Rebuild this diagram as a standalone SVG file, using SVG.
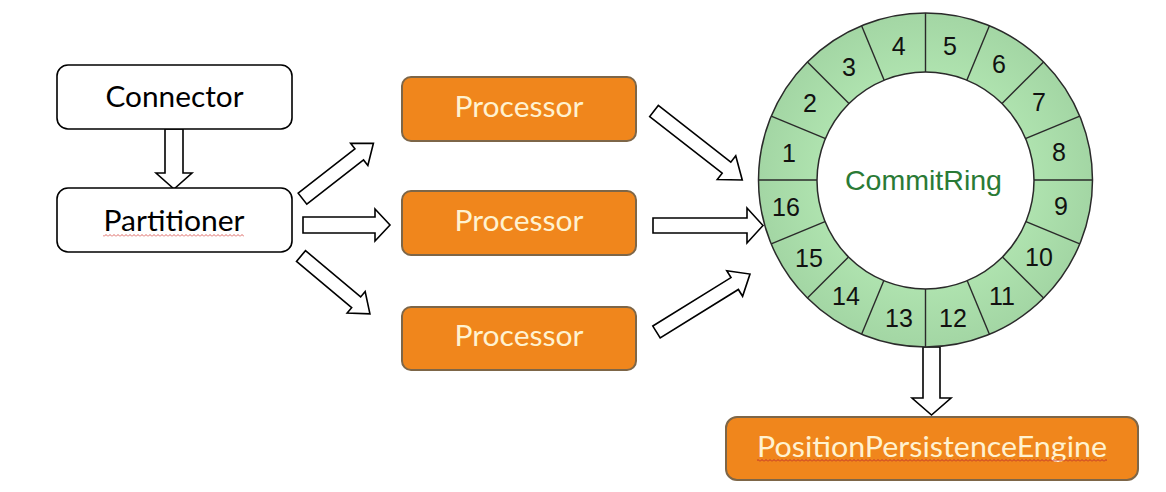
<svg xmlns="http://www.w3.org/2000/svg" width="1166" height="492" viewBox="0 0 1166 492">
<style>
.box{fill:#fff;stroke:#000;stroke-width:1.6}
.proc{fill:#F0861C;stroke:#7d6648;stroke-width:2}
.lbl{font-family:Lato,"Open Sans","Liberation Sans",sans-serif;font-size:28px;text-anchor:middle}
.dark{fill:#000}
.light{fill:#FFF2D0}
.num{font-family:"Liberation Sans",Arial,sans-serif;font-size:25px;text-anchor:middle;fill:#111}
.arrow{fill:#fff;stroke:#000;stroke-width:1.6;stroke-linejoin:miter}
.seg{stroke:#2a2a2a;stroke-width:1.4}
</style>
<defs>
<radialGradient id="ringfill" cx="0.5" cy="0.5" r="0.5">
<stop offset="0.6" stop-color="#b0e4b0"/>
<stop offset="1" stop-color="#a3d6a4"/>
</radialGradient>
<pattern id="sq" width="4" height="3" patternUnits="userSpaceOnUse">
<path d="M0 2.5 L2 0.5 L4 2.5" stroke="#d9534f" fill="none" stroke-width="0.9"/>
</pattern>
<pattern id="sq2" width="4" height="3" patternUnits="userSpaceOnUse">
<path d="M0 2.5 L2 0.5 L4 2.5" stroke="#c0302a" fill="none" stroke-width="1"/>
</pattern>
</defs>
<rect width="1166" height="492" fill="#fff"/>

<g id="connectors">
<polygon class="arrow" points="165,129 183,129 183,173 192,173 174,189 156,173 165,173"/>
<polygon class="arrow" transform="translate(302.5,198.7) rotate(-38)" points="0,-7 72,-7 72,-14 90,0 72,14 72,7 0,7"/>
<polygon class="arrow" points="303,217 375,217 375,209 390,225 375,241 375,233 303,233"/>
<polygon class="arrow" transform="translate(301,256) rotate(40)" points="0,-7 72,-7 72,-14 90,0 72,14 72,7 0,7"/>
<polygon class="arrow" transform="translate(654,111) rotate(38)" points="0,-7 92,-7 92,-15 112,0 92,15 92,7 0,7"/>
<polygon class="arrow" points="653,218 747,218 747,208 763,225.5 747,243 747,233 653,233"/>
<polygon class="arrow" transform="translate(656.5,332) rotate(-31.8)" points="0,-7 92,-7 92,-15 110,0 92,15 92,7 0,7"/>
<polygon class="arrow" points="923,347 940,347 940,398 951,398 931.5,415 912,398 923,398"/>
</g>

<g id="connector">
<rect class="box" x="57" y="65" width="235" height="64" rx="11"/>
<text class="lbl dark" x="174.5" y="107" textLength="138" lengthAdjust="spacingAndGlyphs">Connector</text>
</g>

<g id="partitioner">
<rect class="box" x="57" y="188" width="235" height="64" rx="11"/>
<text class="lbl dark" x="174" y="231" textLength="141" lengthAdjust="spacingAndGlyphs">Partitioner</text>
<rect x="103" y="234" width="141" height="3" fill="url(#sq)"/>
</g>

<g id="processor1">
<rect class="proc" x="402" y="77" width="234" height="64" rx="9"/>
<text class="lbl light" x="519" y="117" textLength="129" lengthAdjust="spacingAndGlyphs">Processor</text>
</g>
<g id="processor2">
<rect class="proc" x="402" y="191" width="234" height="64" rx="9"/>
<text class="lbl light" x="519" y="231" textLength="129" lengthAdjust="spacingAndGlyphs">Processor</text>
</g>
<g id="processor3">
<rect class="proc" x="402" y="307" width="234" height="63" rx="9"/>
<text class="lbl light" x="519" y="346" textLength="129" lengthAdjust="spacingAndGlyphs">Processor</text>
</g>

<g id="commitring">
<circle cx="925.5" cy="180" r="167" fill="url(#ringfill)" stroke="#2a2a2a" stroke-width="1.5"/>
<g transform="translate(925.5,180)">
<line class="seg" x1="-167" y1="0" x2="167" y2="0"/>
<line class="seg" x1="-167" y1="0" x2="167" y2="0" transform="rotate(22.5)"/>
<line class="seg" x1="-167" y1="0" x2="167" y2="0" transform="rotate(45)"/>
<line class="seg" x1="-167" y1="0" x2="167" y2="0" transform="rotate(67.5)"/>
<line class="seg" x1="-167" y1="0" x2="167" y2="0" transform="rotate(90)"/>
<line class="seg" x1="-167" y1="0" x2="167" y2="0" transform="rotate(112.5)"/>
<line class="seg" x1="-167" y1="0" x2="167" y2="0" transform="rotate(135)"/>
<line class="seg" x1="-167" y1="0" x2="167" y2="0" transform="rotate(157.5)"/>
</g>
<circle cx="925.5" cy="180.5" r="108.5" fill="#fff" stroke="#2a2a2a" stroke-width="1.5"/>
<text x="923.5" y="190" font-family="'Liberation Sans',Arial,sans-serif" font-size="28" fill="#2a7a35" text-anchor="middle" textLength="157" lengthAdjust="spacingAndGlyphs">CommitRing</text>
<text class="num" x="789" y="162">1</text>
<text class="num" x="810" y="112">2</text>
<text class="num" x="849" y="76">3</text>
<text class="num" x="898.6" y="55">4</text>
<text class="num" x="950" y="55">5</text>
<text class="num" x="999" y="73">6</text>
<text class="num" x="1039" y="111">7</text>
<text class="num" x="1059" y="161">8</text>
<text class="num" x="1061" y="215">9</text>
<text class="num" x="1039" y="266">10</text>
<text class="num" x="1002" y="305">11</text>
<text class="num" x="953" y="327">12</text>
<text class="num" x="899" y="327">13</text>
<text class="num" x="846" y="305">14</text>
<text class="num" x="809" y="267">15</text>
<text class="num" x="786" y="216">16</text>
</g>

<g id="positionpersistenceengine">
<rect class="proc" x="726" y="417" width="412" height="63" rx="11"/>
<text class="lbl light" x="932" y="457" textLength="350" lengthAdjust="spacingAndGlyphs">PositionPersistenceEngine</text>
<rect x="757" y="459" width="350" height="3" fill="url(#sq2)"/>
</g>
</svg>
